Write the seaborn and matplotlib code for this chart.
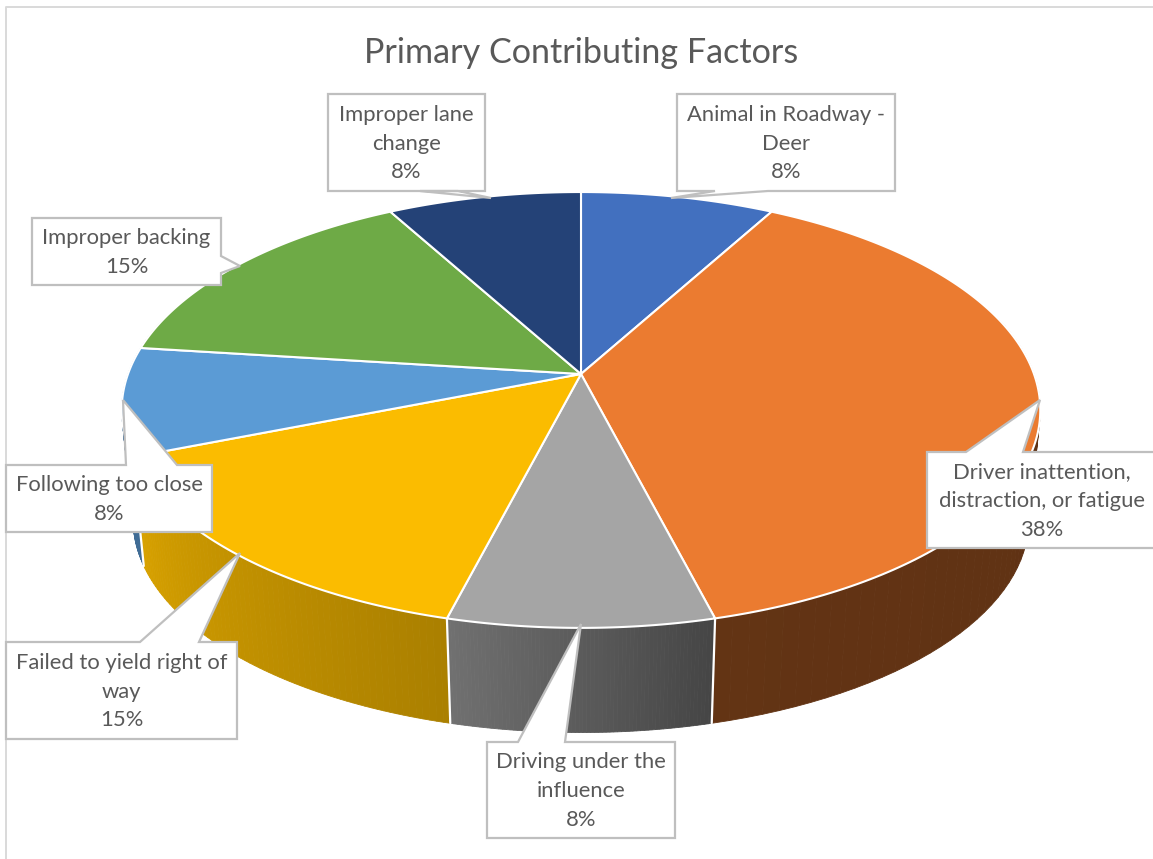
import numpy as np
import matplotlib
matplotlib.use("Agg")
import matplotlib.pyplot as plt
import seaborn as sns

# Share of crashes by primary contributing factor (percent)
categories = [
    "Animal in Roadway -\nDeer",
    "Driver inattention,\ndistraction, or fatigue",
    "Driving under the\ninfluence",
    "Failed to yield right of\nway",
    "Following too close",
    "Improper backing",
    "Improper lane\nchange",
]
shares = [8, 38, 8, 15, 8, 15, 8]
title = "Primary Contributing Factors"

slice_colors = ["#4270BF", "#EB7B30", "#A5A5A5", "#FBBC00", "#5B9BD5", "#6EAA46", "#244277"]
# Brightness of each slice's outer wall at its start and end angle
wall_shades = [(0.7, 0.7), (0.395, 0.42), (0.42, 0.68), (0.68, 0.86), (0.7, 0.7), (0.7, 0.7), (0.7, 0.7)]

# Callout layout, in pixels: box (left, top, right, bottom), tail tip, tail base
callouts = [
    ((677, 94, 895, 191), (671, 198), ((768, 191), (715, 191))),
    ((927, 452, 1160, 548), (1040, 400), ((966, 452), (1023, 452))),
    ((487, 742, 675, 838), (581, 624), ((518, 742), (565, 742))),
    ((6, 642, 237, 739), (240, 553), ((140, 642), (199, 642))),
    ((6, 465, 212, 532), (123, 400), ((126, 465), (177, 465))),
    ((32, 218, 221, 285), (240, 266), ((221, 256), (221, 273))),
    ((328, 94, 485, 191), (491, 198), ((420, 191), (458, 191))),
]

W, H = 1153, 859
CX, CY = 581, 374
RX, KY, PERSP = 453, 212, 0.165
WALL_SCALE, WALL_Y = 0.975, 485
TEXT = "#595959"
BOX_EDGE = "#BFBFBF"
FONT = "Lato"


def project(theta, scale=1.0, cy=CY):
    """Perspective projection of rim points; theta runs clockwise from 12 o'clock."""
    u, v = np.sin(theta), np.cos(theta)
    d = 1 + PERSP * v
    return CX + scale * RX * u / d, cy - scale * KY * v / d


sns.set_theme(style="white")
plt.rcParams["font.family"] = [FONT, "DejaVu Sans"]
palette = sns.color_palette(slice_colors)

fig = plt.figure(figsize=(W / 100, H / 100), dpi=100, facecolor="white")
ax = fig.add_axes([0, 0, 1, 1])
ax.set_xlim(0, W)
ax.set_ylim(H, 0)
ax.axis("off")

# Chart area border (runs off the right and bottom of the canvas)
ax.plot([6, 6, W + 5], [H + 5, 7, 7], color="#D9D9D9", lw=1.4, zorder=1)

edges = np.radians(np.cumsum([0] + shares) / sum(shares) * 360)

# Outer walls: thin strips give the shaded gradient along the rim
for i, (a, b) in enumerate(zip(edges[:-1], edges[1:])):
    t = np.linspace(a, b, 70)
    s0, s1 = wall_shades[i]
    base = np.array(palette[i])
    for j in range(len(t) - 1):
        if np.cos(t[j]) > 0.3 and np.cos(t[j + 1]) > 0.3:
            continue
        x0, y0 = project(t[j:j + 2])
        x1, y1 = project(t[j:j + 2], WALL_SCALE, WALL_Y)
        shade = s0 + (s1 - s0) * j / (len(t) - 2)
        c = tuple(base * shade)
        ax.fill(np.r_[x0, x1[::-1]], np.r_[y0, y1[::-1]], color=c, lw=0.6, zorder=2)

# White separators between visible walls
for e in edges:
    if np.cos(e) < -0.3:
        x0, y0 = project(e)
        x1, y1 = project(e, WALL_SCALE, WALL_Y)
        ax.plot([x0, x1], [y0, y1], color="white", lw=1.6, zorder=3)

# Top face
for i, (a, b) in enumerate(zip(edges[:-1], edges[1:])):
    t = np.linspace(a, b, 160)
    x, y = project(t)
    ax.fill(np.r_[CX, x], np.r_[CY, y], facecolor=palette[i], edgecolor="white",
            lw=1.5, joinstyle="round", zorder=4)

# Data callouts
for name, share, (box, tip, base) in zip(categories, shares, callouts):
    l, t, r, b = box
    if base[0][1] == b:  # tail leaves the bottom edge
        outline = [(l, t), (r, t), (r, b), base[0], tip, base[1], (l, b)]
    elif base[0][1] == t:  # tail leaves the top edge
        outline = [(l, t), base[0], tip, base[1], (r, t), (r, b), (l, b)]
    else:  # tail leaves the right edge
        outline = [(l, t), (r, t), base[0], tip, base[1], (r, b), (l, b)]
    xs, ys = zip(*outline)
    ax.fill(xs, ys, facecolor="white", edgecolor=BOX_EDGE, lw=1.6,
            joinstyle="miter", zorder=5)
    ax.text((l + min(r, 1157)) / 2, (t + b) / 2 + 1, f"{name}\n{share}%",
            ha="center", va="center", color=TEXT, fontsize=15.8, linespacing=1.56,
            family=FONT, zorder=6)

ax.text(581, 53, title, ha="center", va="center", color=TEXT, fontsize=24.6, family=FONT, zorder=6)

fig.savefig("out.png", dpi=100, facecolor="white")
